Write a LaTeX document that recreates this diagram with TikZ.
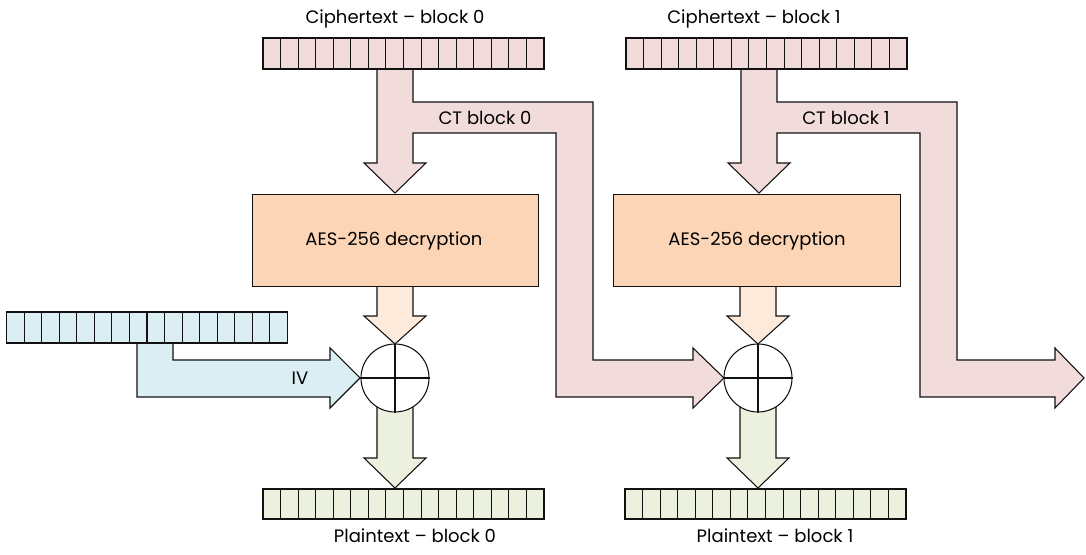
\documentclass[tikz,border=0pt]{standalone}
\usepackage{fontspec}
\setmainfont{Poppins}
\usetikzlibrary{calc}
\definecolor{ctpink}{HTML}{F2DCDB}
\definecolor{aesorange}{HTML}{FBD5B5}
\definecolor{aeslight}{HTML}{FDEADA}
\definecolor{ivblue}{HTML}{DBEEF3}
\definecolor{ptgreen}{HTML}{EBF1DE}
\definecolor{edge}{HTML}{111111}
\begin{document}
\begin{tikzpicture}[x=0.75pt,y=-0.75pt,line width=0.8pt,
  lbl/.style={font=\fontsize{13.5}{16}\selectfont,text=black,inner sep=0pt},
  flow/.style={draw=edge,line join=miter},
  cellrow/.style={draw=edge,anchor=north west,minimum width=210.75pt,minimum height=23.25pt,inner sep=0pt,outer sep=0pt},
  aesbox/.style={draw=edge,fill=aesorange,anchor=north west,minimum width=215pt,minimum height=68.8pt,inner sep=0pt},
  xorc/.style={draw=edge,fill=white,circle,minimum size=51pt,inner sep=0pt}]
\useasboundingbox (0,0) rectangle (1086,555);

% ---------- pink ciphertext flows ----------
\draw[flow,fill=ctpink] (377,69) -- (413,69) -- (413,102) -- (593,102) -- (593,360) -- (693,360) -- (693,348) -- (724,378) -- (693,408) -- (693,397) -- (556,397) -- (556,133) -- (413,133) -- (413,163) -- (426,163) -- (395,193) -- (364,163) -- (377,163) -- cycle;
\draw[flow,fill=ctpink] (741,69) -- (777,69) -- (777,102) -- (957,102) -- (957,360) -- (1055,360) -- (1055,348) -- (1084,378) -- (1055,408) -- (1055,397) -- (920,397) -- (920,133) -- (777,133) -- (777,163) -- (790,163) -- (759,193) -- (728,163) -- (741,163) -- cycle;

% ---------- IV flow ----------
\draw[flow,fill=ivblue] (137,343) -- (173,343) -- (173,360) -- (330,360) -- (330,348) -- (360,378) -- (330,408) -- (330,397) -- (137,397) -- cycle;

% ---------- orange (AES output) arrows ----------
\draw[flow,fill=aeslight] (377,286) -- (413,286) -- (413,316) -- (426,316) -- (395,344) -- (364,316) -- (377,316) -- cycle;
\draw[flow,fill=aeslight] (740,286) -- (776,286) -- (776,316) -- (789,316) -- (758,344) -- (727,316) -- (740,316) -- cycle;

% ---------- green (plaintext) arrows ----------
\draw[flow,fill=ptgreen] (377,400) -- (413,400) -- (413,458) -- (426,458) -- (395,488) -- (364,458) -- (377,458) -- cycle;
\draw[flow,fill=ptgreen] (740,400) -- (776,400) -- (776,458) -- (789,458) -- (758,488) -- (727,458) -- (740,458) -- cycle;

% ---------- byte rows ----------
\node[cellrow,fill=ctpink] (ct0) at (263,38) {};
\node[cellrow,fill=ctpink] (ct1) at (626,38) {};
\node[cellrow,fill=ivblue,minimum width=210.45pt] (iv) at (6.7,312) {};
\node[cellrow,fill=ptgreen,minimum height=22.5pt] (pt0) at (263,489) {};
\node[cellrow,fill=ptgreen,minimum height=22.5pt] (pt1) at (625,489) {};
\foreach \n in {ct0,ct1,iv,pt0,pt1}{
  \foreach \i in {1,...,15}{
    \draw[edge] ($(\n.north west)!\i/16!(\n.north east)$) -- ($(\n.south west)!\i/16!(\n.south east)$);
  }
}

% ---------- AES boxes ----------
\node[aesbox] (aes0) at (251.7,194.3) {};
\node[aesbox] (aes1) at (613.3,194.3) {};
\node[lbl] (aest0) at (394,241) {AES-256 decryption};
\node[lbl] (aest1) at (757,241) {AES-256 decryption};

% ---------- XOR ----------
\node[xorc] (x0) at (395,378) {};
\node[xorc] (x1) at (758,378) {};
\foreach \n in {x0,x1}{
  \draw[edge] (\n.north) -- (\n.south);
  \draw[edge] (\n.west) -- (\n.east);
}

% ---------- labels ----------
\node[lbl] (lct0) at (395,19) {Ciphertext – block 0};
\node[lbl] (lct1) at (754,19) {Ciphertext – block 1};
\node[lbl] (lcb0) at (485,118) {CT block 0};
\node[lbl] (lcb1) at (846,118) {CT block 1};
\node[lbl] (liv) at (300,378) {IV};
\node[lbl] (lpt0) at (415,536) {Plaintext – block 0};
\node[lbl] (lpt1) at (775,536) {Plaintext – block 1};
\end{tikzpicture}
\end{document}
